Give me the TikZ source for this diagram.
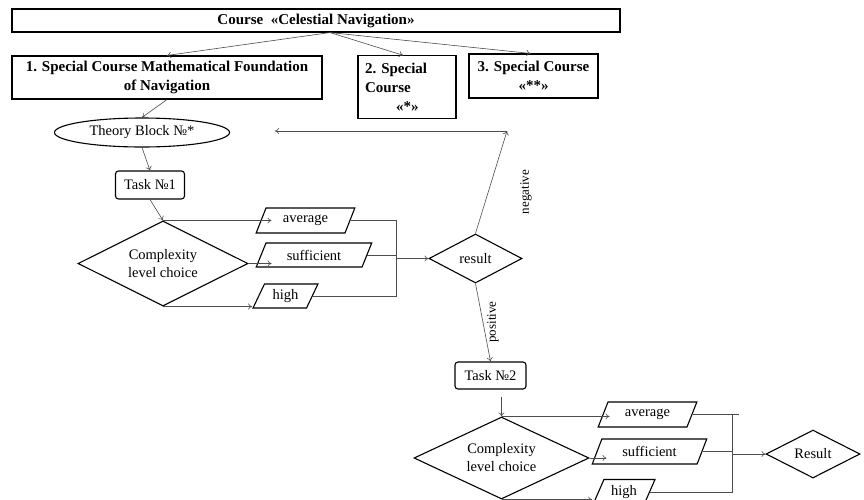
\documentclass[tikz,border=0pt]{standalone}
\usepackage{fontspec}
\setmainfont{Liberation Serif}
\usetikzlibrary{shapes.geometric,arrows.meta,calc}

\tikzset{
  >={To[length=4pt,width=6pt]},
  coursebox/.style={draw, line width=1.1pt, inner sep=4pt,
    font=\bfseries\fontsize{15}{19}\selectfont},
  plain/.style={font=\fontsize{14.5}{18}\selectfont},
  taskbox/.style={plain, draw, line width=1.1pt, rounded corners=3pt},
  choice/.style={plain, diamond, draw, line width=1.1pt, aspect=2, inner sep=0pt, align=center},
  level/.style={plain, trapezium, draw, line width=1.1pt, trapezium stretches=true,
    trapezium left angle=62, trapezium right angle=118, inner sep=0pt},
  link/.style={draw=black!70, line width=0.6pt},
  lbl/.style={font=\fontsize{13}{15}\selectfont, rotate=90}
}

\begin{document}
\begin{tikzpicture}[x=1pt, y=-1pt]
    \useasboundingbox (0,0) rectangle (864,499);

    % Courses
    \node[coursebox, minimum width=608, minimum height=23] (course) at (316,20.5) {Course~~«Celestial Navigation»};
    \node[coursebox, text width=302, align=flush center, minimum height=43] (sc1) at (167,77.5) {1. Special Course Mathematical Foundation\\of Navigation};
    \node[coursebox, text width=84, inner sep=7pt, align=flush left, minimum height=62] (sc2) at (407,87) {2. Special\\Course\\\hspace*{31pt}«*»};
    \node[coursebox, text width=121, align=flush center, minimum height=44] (sc3) at (533.5,76) {3. Special Course\\«**»};

    \draw[link, ->] ([xshift=14]course.south) -- (sc1.north);
    \draw[link, ->] ([xshift=14]course.south) -- ([xshift=-4]sc2.north);
    \draw[link, ->] ([xshift=14]course.south) -- ([xshift=-3]sc3.north);

    % First block
    \node[plain, ellipse, draw, line width=1.1pt, minimum width=175, minimum height=29, inner sep=0pt] (theory) at (142,132.5) {Theory Block №*};
    \node[taskbox, minimum width=69, minimum height=28] (task1) at (150,185) {Task №1};
    \node[choice, minimum width=170, minimum height=85] (choiceA) at (163,263.5) {Complexity\\level choice};
    \node[level, minimum width=99, minimum height=25] (avgA) at (305.5,220.5) {average};
    \node[level, minimum width=116, minimum height=24] (sufA) at (314,255) {sufficient};
    \node[level, minimum width=65, minimum height=24] (highA) at (285.5,296) {high};
    \node[choice, minimum width=93, minimum height=49] (resA) at (475.5,258.5) {result};

    \draw[link, ->] (sc1.south) -- (theory.north);
    \draw[link, ->] (theory.south) -- (task1.north);
    \draw[link, ->] (task1.south) -- (choiceA.north);
    \draw[link, ->] (choiceA.north) -- ([xshift=11]avgA.west |- choiceA.north);
    \draw[link, ->] (choiceA.east) -- ([xshift=11]sufA.west |- choiceA.east);
    \draw[link, ->] (choiceA.south) -- (highA.bottom left corner |- choiceA.south);

    \coordinate (mergeA) at ([xshift=-32]resA.west);
    \draw[link] (avgA.east) -| (mergeA) |- (highA.east);
    \draw[link] (sufA.east) -- (sufA.east -| mergeA);
    \draw[link, ->] (mergeA) -- (resA.west);

    % Negative branch back to theory
    \coordinate (negTop) at (507,131);
    \coordinate (backEnd) at (275,131);
    \draw[link, ->] (resA.north) -- (negTop);
    \draw[link, ->] (negTop) -- (backEnd);
    \node[lbl] (negLbl) at (526,192) {negative};

    % Second block
    \node[taskbox, minimum width=71, minimum height=27] (task2) at (490.5,375.5) {Task №2};
    \node[lbl] (posLbl) at (493,322) {positive};
    \draw[link, ->] (resA.south) -- (task2.north);

    \node[choice, minimum width=175, minimum height=82] (choiceB) at (501.5,458) {Complexity\\level choice};
    \node[level, minimum width=99, minimum height=25] (avgB) at (647.5,414.5) {average};
    \node[level, minimum width=115, minimum height=25] (sufB) at (649.5,451.5) {sufficient};
    \node[level, minimum width=62, minimum height=25] (highB) at (624,492) {high};
    \node[choice, minimum width=94, minimum height=48] (resB) at (813,454) {Result};

    \draw[link, ->] ([yshift=-7]task2.south -| choiceB.north) -- (choiceB.north);
    \draw[link, ->] (choiceB.north) -- ([xshift=7]avgB.west |- choiceB.north);
    \draw[link, ->] (choiceB.east) -- ([xshift=10]sufB.west |- choiceB.east);
    \draw[link, ->] (choiceB.south) -- (highB.bottom left corner |- choiceB.south);

    \coordinate (mergeB) at ([xshift=-33]resB.west);
    \draw[link] (avgB.east) -- ([xshift=7]mergeB |- avgB.east);
    \draw[link] (mergeB |- avgB.east) -- (mergeB |- highB.east) -- (highB.east);
    \draw[link] (sufB.east) -- (sufB.east -| mergeB);
    \draw[link, ->] (mergeB) -- (resB.west);
\end{tikzpicture}
\end{document}
